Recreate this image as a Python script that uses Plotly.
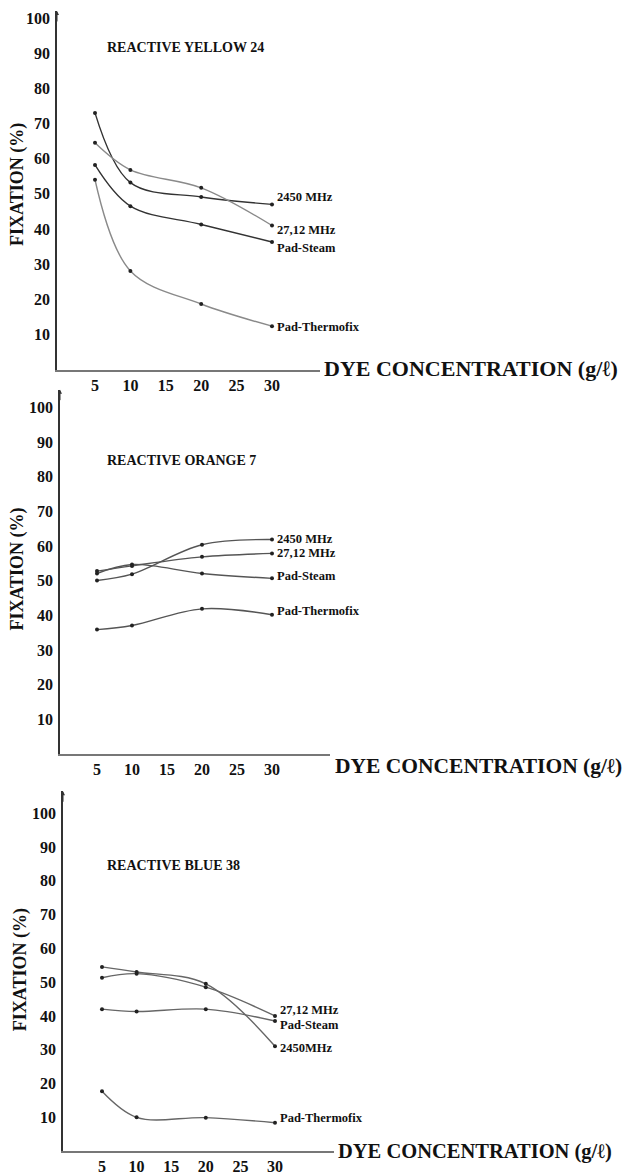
import plotly.graph_objects as go

W, H = 633, 1175

# ---------------- data ----------------
conc = [5, 10, 20, 30]
x_ticks = [5, 10, 15, 20, 25, 30]
y_ticks = [10, 20, 30, 40, 50, 60, 70, 80, 90, 100]
series_names = ["2450 MHz", "27,12 MHz", "Pad-Steam", "Pad-Thermofix"]

# Reactive Yellow 24
yellow_2450 = [73.0, 53.2, 49.1, 47.0]
yellow_2712 = [64.5, 56.8, 51.7, 41.0]
yellow_steam = [58.2, 46.5, 41.3, 36.3]
yellow_thermo = [54.0, 28.1, 18.7, 12.4]

# Reactive Orange 7
orange_2450 = [50.1, 51.9, 60.4, 61.9]
orange_2712 = [52.8, 54.3, 56.9, 57.9]
orange_steam = [52.1, 54.7, 52.1, 50.7]
orange_thermo = [35.9, 37.1, 41.9, 40.2]

# Reactive Blue 38
blue_2450 = [54.5, 53.0, 49.5, 31.0]
blue_2712 = [51.3, 52.5, 48.5, 40.0]
blue_steam = [42.0, 41.3, 42.0, 38.5]
blue_thermo = [17.7, 10.0, 9.9, 8.4]

titles = ["REACTIVE YELLOW 24", "REACTIVE ORANGE 7", "REACTIVE BLUE 38"]
label_texts = [
    ["2450 MHz", "27,12 MHz", "Pad-Steam", "Pad-Thermofix"],
    ["2450 MHz", "27,12 MHz", "Pad-Steam", "Pad-Thermofix"],
    ["2450MHz", "27,12 MHz", "Pad-Steam", "Pad-Thermofix"],
]

# ---------------- layout (pixel geometry) ----------------
FONT = "Liberation Serif, Times New Roman, serif"
panels = [
    dict(data=[yellow_2450, yellow_2712, yellow_steam, yellow_thermo],
         ax_left=57, ax_right=320, x5=95, x30=272, y0=371, y100=17, ytop=10,
         title_xy=(105, 47), ytitle_xy=(18, 185), dye_xy=(322, 370), dye_size=22,
         label_y=[49.2, 39.8, 34.7, 12.1],
         colors=["#333333", "#8a8a8a", "#333333", "#8a8a8a"]),
    dict(data=[orange_2450, orange_2712, orange_steam, orange_thermo],
         ax_left=60, ax_right=330, x5=97, x30=272, y0=757.5, y100=409, ytop=391,
         title_xy=(105, 462), ytitle_xy=(18, 572), dye_xy=(333, 770), dye_size=21.5,
         label_y=[62.1, 58.1, 51.5, 41.2],
         colors=["#555555", "#555555", "#555555", "#555555"]),
    dict(data=[blue_2450, blue_2712, blue_steam, blue_thermo],
         ax_left=63, ax_right=334, x5=102, x30=275, y0=1157, y100=817, ytop=795,
         title_xy=(105, 870), ytitle_xy=(20, 975), dye_xy=(336, 1157), dye_size=20.5,
         label_y=[30.6, 41.8, 37.4, 9.7],
         colors=["#666666", "#666666", "#666666", "#666666"]),
]

fig = go.Figure()
annotations = []
layout_axes = {}

for i, p in enumerate(panels):
    n = "" if i == 0 else str(i + 1)
    xa, ya = "x" + n, "y" + n
    sx = (p["x30"] - p["x5"]) / 25.0
    x0 = 5 - (p["x5"] - p["ax_left"]) / sx
    x1 = 30 + (p["ax_right"] - p["x30"]) / sx
    sy = (p["y0"] - p["y100"]) / 100.0
    ymax = (p["y0"] - p["ytop"]) / sy

    for k, vals in enumerate(p["data"]):
        fig.add_trace(go.Scatter(
            x=conc, y=vals, mode="lines+markers", xaxis=xa, yaxis=ya,
            name=series_names[k], showlegend=False,
            line=dict(color=p["colors"][k], width=1.4, shape="spline", smoothing=1.0),
            marker=dict(color="#222222", size=4),
        ))

    layout_axes["xaxis" + n] = dict(
        domain=[p["ax_left"] / W, p["ax_right"] / W], range=[x0, x1],
        anchor=ya, showline=True, linecolor="#777777", linewidth=1.5,
        showgrid=False, zeroline=False, ticks="",
        tickvals=x_ticks, ticktext=["<b>%d</b>" % v for v in x_ticks],
        tickfont=dict(family=FONT, size=16, color="#111111"),
    )
    layout_axes["yaxis" + n] = dict(
        domain=[1 - p["y0"] / H, 1 - p["ytop"] / H], range=[0, ymax],
        anchor=xa, showline=True, linecolor="#333333", linewidth=1.5,
        showgrid=False, zeroline=False, ticks="",
        tickvals=y_ticks, ticktext=["<b>%d</b>" % v for v in y_ticks],
        tickfont=dict(family=FONT, size=16, color="#111111"),
        ticklabelstandoff=2,
    )

    # title
    annotations.append(dict(
        xref="paper", yref="paper", x=p["title_xy"][0] / W, y=1 - p["title_xy"][1] / H,
        text="<b>%s</b>" % titles[i], showarrow=False, xanchor="left", yanchor="middle",
        font=dict(family=FONT, size=14, color="#111111")))
    # y title
    annotations.append(dict(
        xref="paper", yref="paper", x=p["ytitle_xy"][0] / W, y=1 - p["ytitle_xy"][1] / H,
        text="<b>FIXATION (%)</b>", showarrow=False, textangle=-90,
        xanchor="center", yanchor="middle",
        font=dict(family=FONT, size=18, color="#111111")))
    # x title
    annotations.append(dict(
        xref="paper", yref="paper", x=p["dye_xy"][0] / W, y=1 - p["dye_xy"][1] / H,
        text="<b>DYE CONCENTRATION (g/ℓ)</b>", showarrow=False,
        xanchor="left", yanchor="middle",
        font=dict(family=FONT, size=p["dye_size"], color="#111111")))
    # series end labels
    for k, txt in enumerate(label_texts[i]):
        annotations.append(dict(
            xref=xa, yref=ya, x=30, y=p["label_y"][k], text="<b>%s</b>" % txt,
            showarrow=False, xanchor="left", yanchor="middle", xshift=3,
            font=dict(family=FONT, size=12.5, color="#111111")))
    # arrow at the top of the y axis
    annotations.append(dict(
        xref=xa, yref=ya, x=x0, y=ymax, ax=0, ay=12, axref="pixel", ayref="pixel",
        showarrow=True, arrowhead=2, arrowsize=0.8, arrowwidth=1, arrowcolor="#333333",
        text=""))

fig.update_layout(
    width=W, height=H, margin=dict(l=0, r=0, t=0, b=0),
    paper_bgcolor="white", plot_bgcolor="white",
    showlegend=False, annotations=annotations, **layout_axes,
)

fig.write_html("out.html")
